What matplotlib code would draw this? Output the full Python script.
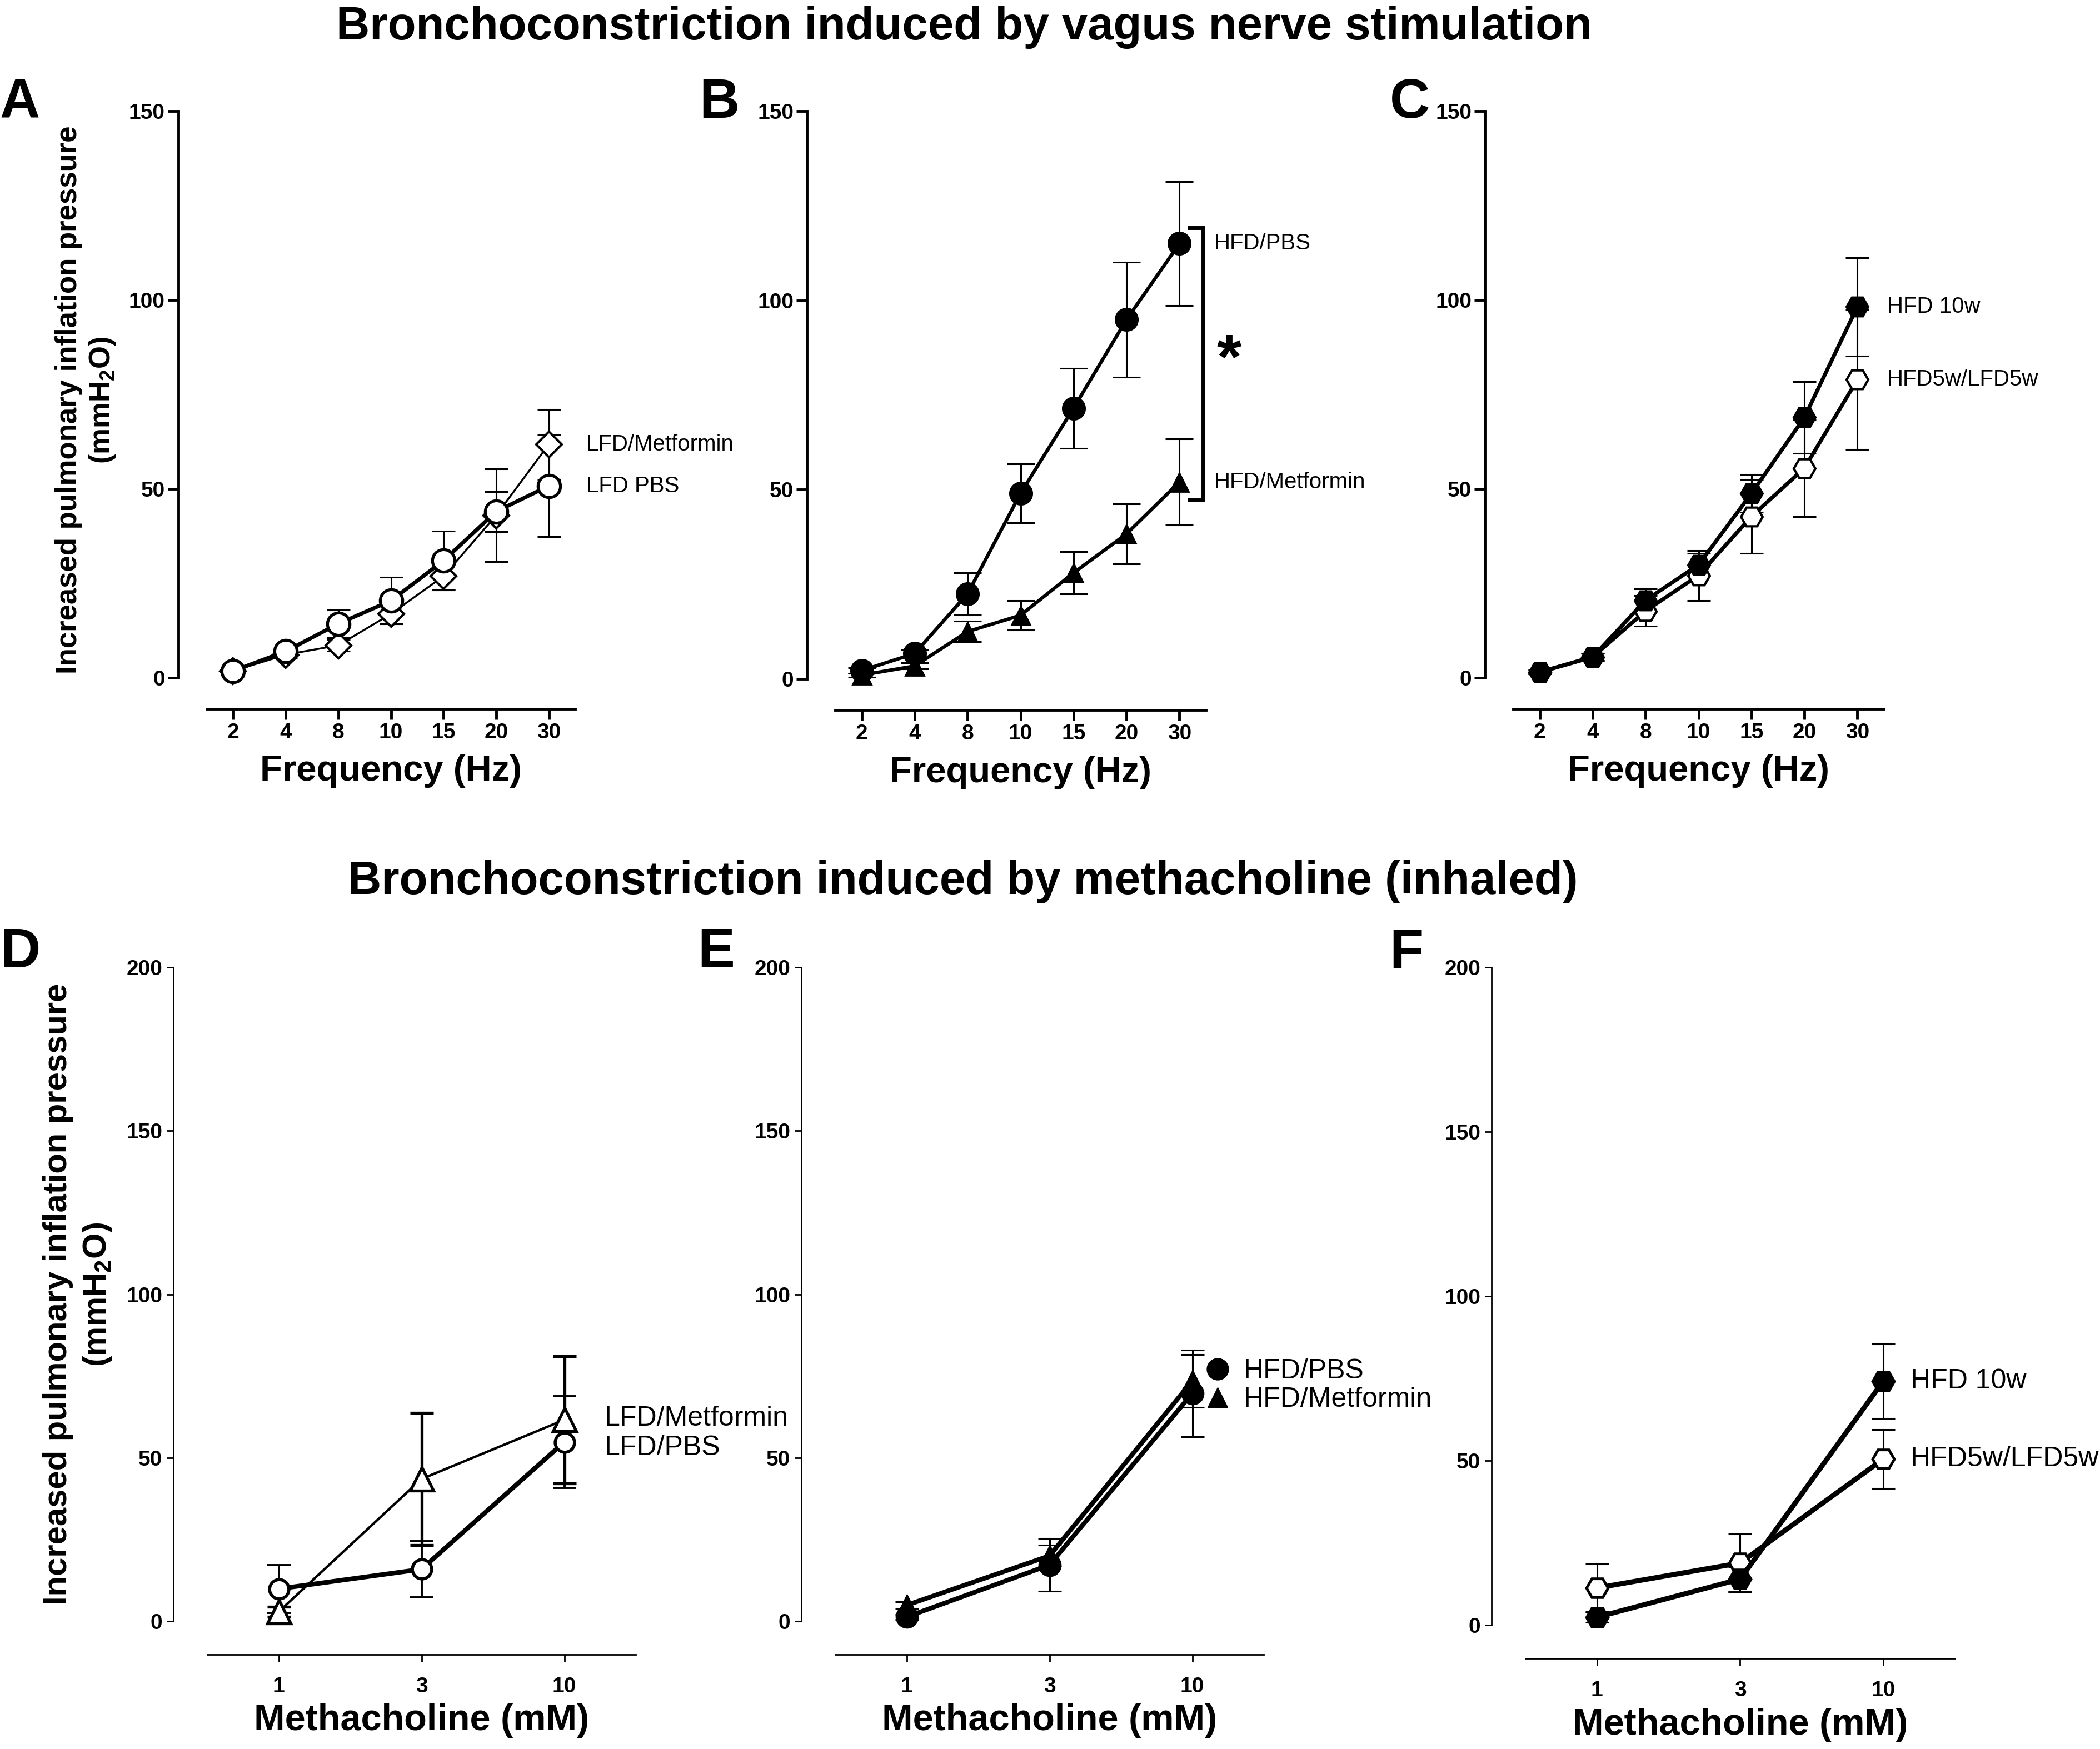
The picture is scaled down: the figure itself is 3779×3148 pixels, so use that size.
import numpy as np
import matplotlib
matplotlib.use('Agg')
import matplotlib.pyplot as plt
from matplotlib.lines import Line2D

plt.rcParams['font.family'] = ['Liberation Sans', 'DejaVu Sans']
plt.rcParams['mathtext.fontset'] = 'custom'
plt.rcParams['mathtext.rm'] = 'Liberation Sans'
plt.rcParams['mathtext.bf'] = 'Liberation Sans:bold'

# ---- data ----
freq = ['2', '4', '8', '10', '15', '20', '30']
dose = ['1', '3', '10']

# A
lfd_pbs = [1.8, 7.0, 14.3, 20.4, 31.0, 44.0, 50.8]
lfd_pbs_sem = [0.5, 1.0, 3.7, 6.2, 7.8, 5.3, 13.5]
lfd_met = [1.8, 6.1, 8.6, 16.9, 26.9, 43.0, 61.8]
lfd_met_sem = [0.5, 1.0, 1.5, 2.6, 3.6, 12.3, 9.3]
# B
hfd_pbs = [2.2, 6.7, 22.5, 49.0, 71.5, 94.9, 115.0]
hfd_pbs_sem = [0.8, 1.0, 5.6, 7.8, 10.6, 15.2, 16.4]
hfd_met = [1.0, 3.4, 12.5, 16.8, 28.0, 38.3, 52.0]
hfd_met_sem = [0.5, 0.8, 2.7, 3.9, 5.6, 7.9, 11.4]
# C
hfd10 = [1.5, 5.5, 20.5, 29.9, 48.8, 68.9, 98.2]
hfd10_sem = [0.5, 1.0, 3.0, 3.0, 5.0, 9.5, 13.0]
hfd5 = [1.5, 5.5, 17.7, 27.1, 42.7, 55.5, 78.9]
hfd5_sem = [0.5, 1.0, 4.0, 6.6, 9.8, 12.8, 18.5]
# D
d_pbs = [9.9, 15.9, 54.8]
d_pbs_sem = [7.3, 8.6, 14.0]
d_met = [2.9, 43.5, 61.6]
d_met_sem = [1.5, 20.2, 19.5]
# E
e_pbs = [1.3, 17.2, 69.7]
e_pbs_sem = [0.8, 8.1, 13.3]
e_met = [4.9, 20.0, 73.5]
e_met_sem = [1.0, 3.2, 8.0]
# F
f_hfd10 = [2.4, 14.0, 74.2]
f_hfd10_sem = [1.5, 3.8, 11.3]
f_hfd5 = [11.3, 18.9, 50.5]
f_hfd5_sem = [7.2, 8.8, 8.9]

W, H = 3779, 3148
fig = plt.figure(figsize=(W / 100, H / 100), dpi=100)


def make_axes(x0, x1, ytop, ybot):
    return fig.add_axes([x0 / W, 1 - ybot / H, (x1 - x0) / W, (ybot - ytop) / H])


def style(ax, labels, ymax, top):
    ax.set_xlim(-0.5, len(labels) - 0.5)
    ax.set_ylim(0, ymax)
    ax.set_xticks(range(len(labels)))
    ax.set_xticklabels(labels)
    ax.set_yticks(np.arange(0, ymax + 1, 50))
    for s in ['top', 'right']:
        ax.spines[s].set_visible(False)
    slw = 3.5 if top else 2.0
    for s in ['left', 'bottom']:
        ax.spines[s].set_linewidth(slw)
    ax.spines['left'].set_position(('outward', 37 if top else 44))
    ax.spines['bottom'].set_position(('outward', 40 if top else 43))
    ax.tick_params(axis='both', direction='out', width=slw,
                   length=14 if top else 9, labelsize=28)
    ax.tick_params(axis='y', pad=3 if top else 5)
    ax.tick_params(axis='x', pad=4 if top else 20)
    for t in ax.get_xticklabels() + ax.get_yticklabels():
        t.set_fontweight('bold')
    ax.patch.set_visible(False)


def series(ax, y, err, marker, filled, lw, ms, mew, elw=2.2, cap=15):
    x = np.arange(len(y))
    ax.errorbar(x, y, yerr=err, fmt='none', ecolor='black', elinewidth=elw,
                capsize=cap, capthick=elw, zorder=2, clip_on=False)
    ax.plot(x, y, color='black', lw=lw, marker=marker, ms=ms,
            mfc='black' if filled else 'white', mec='black', mew=mew,
            zorder=3, clip_on=False)


ylab = 'Increased pulmonary inflation pressure\n(mmH$_\\mathbf{2}$O)'

# ---- top row ----
axA = make_axes(372, 1035, 200, 1220)
axB = make_axes(1503, 2170, 200, 1222)
axC = make_axes(2723, 3390, 200, 1220)
for ax in (axA, axB, axC):
    style(ax, freq, 150, True)
    ax.set_xlabel('Frequency (Hz)', fontsize=47, fontweight='bold')
    ax.xaxis.set_label_coords(0.5, -0.165)
    ax.xaxis.label.set_va('center')

axA.set_ylabel(ylab, fontsize=38, fontweight='bold', linespacing=1.2)
axA.yaxis.set_label_coords(-0.327, 0.49)
axA.yaxis.label.set_va('center')

series(axA, lfd_met, lfd_met_sem, 'D', False, 2.5, 23, 3.0)
series(axA, lfd_pbs, lfd_pbs_sem, 'o', False, 5.0, 29, 3.8)
axA.text(6.71, 61.8, 'LFD/Metformin', fontsize=29, ha='left', va='center')
axA.text(6.71, 50.8, 'LFD PBS', fontsize=29, ha='left', va='center')

series(axB, hfd_pbs, hfd_pbs_sem, 'o', True, 4.5, 29, 2, cap=18)
series(axB, hfd_met, hfd_met_sem, '^', True, 4.5, 24, 2, cap=18)
axB.plot([6.19, 6.45, 6.45, 6.19], [119.2, 119.2, 47.3, 47.3], color='black',
         lw=5, clip_on=False, solid_joinstyle='miter')
axB.text(6.94, 83.7, '*', fontsize=82, fontweight='bold', ha='center', va='center')
axB.text(6.65, 115.0, 'HFD/PBS', fontsize=29, ha='left', va='center')
axB.text(6.65, 52.0, 'HFD/Metformin', fontsize=29, ha='left', va='center')

series(axC, hfd5, hfd5_sem, 'H', False, 5.0, 28, 3.0)
series(axC, hfd10, hfd10_sem, 'H', True, 5.0, 28, 3.0)
axC.text(6.56, 98.2, 'HFD 10w', fontsize=29, ha='left', va='center')
axC.text(6.56, 78.9, 'HFD5w/LFD5w', fontsize=29, ha='left', va='center')

# ---- bottom row ----
axD = make_axes(373, 1144, 1741, 2918)
axE = make_axes(1503, 2274, 1741, 2918)
axF = make_axes(2745, 3518, 1741, 2925)
for ax in (axD, axE, axF):
    style(ax, dose, 200, False)
    ax.set_xlabel('Methacholine (mM)', fontsize=48, fontweight='bold')
    ax.xaxis.set_label_coords(0.5, -0.152)
    ax.xaxis.label.set_va('center')

axD.set_ylabel(ylab, fontsize=43, fontweight='bold', linespacing=1.3)
axD.yaxis.set_label_coords(-0.301, 0.5)
axD.yaxis.label.set_va('center')

series(axD, d_met, d_met_sem, '^', False, 3.2, 30, 3.8, elw=3.8)
series(axD, d_pbs, d_pbs_sem, 'o', False, 6.0, 25, 4.0, elw=2.8)
axD.text(2.28, 62.0, 'LFD/Metformin', fontsize=36, ha='left', va='center')
axD.text(2.28, 53.0, 'LFD/PBS', fontsize=36, ha='left', va='center')

series(axE, e_pbs, e_pbs_sem, 'o', True, 6.0, 28, 2)
series(axE, e_met, e_met_sem, '^', True, 6.0, 26, 2)
h1 = Line2D([], [], ls='none', marker='o', ms=28, mfc='black', mec='black')
h2 = Line2D([], [], ls='none', marker='^', ms=26, mfc='black', mec='black')
axE.legend([h1, h2], ['HFD/PBS', 'HFD/Metformin'], loc='center left',
           bbox_to_anchor=(2.09, 72.1), bbox_transform=axE.transData,
           frameon=False, fontsize=36, handlelength=0.9, handletextpad=0.48,
           labelspacing=0.1, borderpad=0, borderaxespad=0)

series(axF, f_hfd5, f_hfd5_sem, 'H', False, 6.5, 28, 3.5)
series(axF, f_hfd10, f_hfd10_sem, 'H', True, 6.5, 28, 3.5)
axF.text(2.19, 74.2, 'HFD 10w', fontsize=36, ha='left', va='center')
axF.text(2.19, 50.5, 'HFD5w/LFD5w', fontsize=36, ha='left', va='center')

# ---- titles and panel letters ----
fig.text(1735 / W, 1 - 10 / H, 'Bronchoconstriction induced by vagus nerve stimulation',
         fontsize=60, fontweight='bold', ha='center', va='top')
fig.text(1733 / W, 1 - 1548 / H, 'Bronchoconstriction induced by methacholine (inhaled)',
         fontsize=60, fontweight='bold', ha='center', va='top')
for letter, x, y in [('A', 0, 212), ('B', 1258, 212), ('C', 2501, 212),
                     ('D', 0, 1741), ('E', 1255, 1741), ('F', 2500, 1741)]:
    fig.text(x / W, 1 - y / H, letter, fontsize=72, fontweight='bold',
             ha='left', va='baseline')

fig.savefig('out.png', dpi=100)
